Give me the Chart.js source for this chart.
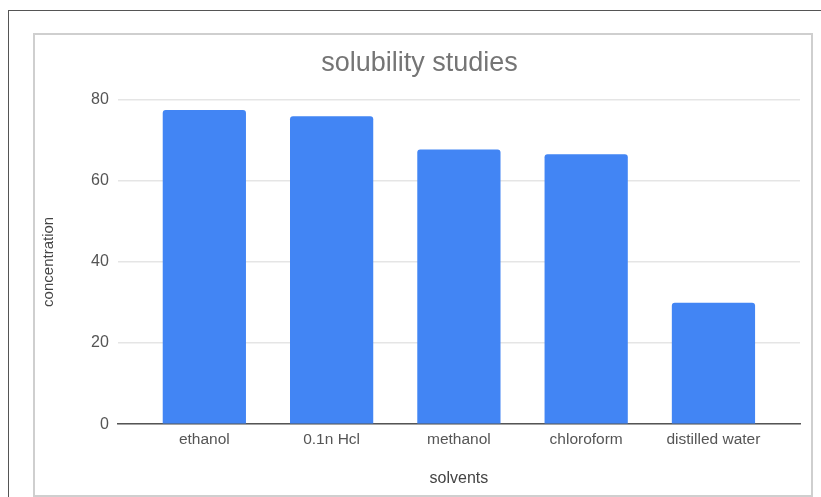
<!DOCTYPE html>
<html lang="en">
<head>
<meta charset="UTF-8">
<title>solubility studies</title>
<script src="https://cdn.jsdelivr.net/npm/chart.js"></script>
<style>
    body {
        margin: 0;
        background: #fff;
        font-family: "Liberation Sans", Arial, sans-serif;
        overflow: hidden;
    }
    .outer {
        position: absolute;
        left: 8px;
        top: 10px;
        width: 900px;
        height: 600px;
        border-top: 1px solid #555;
        border-left: 1px solid #555;
    }
    .frame {
        position: absolute;
        left: 33px;
        top: 33px;
        width: 776px;
        height: 460px;
        border: 2px solid #cfcfcf;
    }
</style>
</head>
<body>

<div class="outer"></div>
<div class="frame">
    <canvas id="solubilityChart"></canvas>
</div>

<script>
// values
const solvents = ['ethanol', '0.1n Hcl', 'methanol', 'chloroform', 'distilled water'];
const concentration = [77.4, 75.9, 67.7, 66.5, 29.9];
const yTicks = [0, 20, 40, 60, 80];

const textGrey = '#555';
const fontFamily = '"Liberation Sans", Arial, sans-serif';

const ctx = document.getElementById('solubilityChart').getContext('2d');
new Chart(ctx, {
    type: 'bar',
    data: {
        datasets: [{
            data: concentration.map((v, i) => ({ x: i, y: v })),
            backgroundColor: '#4285F4',
            borderRadius: 3,
            categoryPercentage: 1.0,
            barPercentage: 0.654
        }]
    },
    options: {
        responsive: true,
        maintainAspectRatio: false,
        animation: false,
        layout: { padding: { left: 4, right: 11, top: 0, bottom: 0 } },
        plugins: {
            legend: { display: false },
            tooltip: { enabled: false },
            title: {
                display: true,
                text: 'solubility studies',
                color: '#757575',
                font: { family: fontFamily, size: 27, weight: 'normal' },
                padding: { top: 12.8, bottom: 19.3 }
            }
        },
        scales: {
            x: {
                type: 'linear',
                offset: false,
                min: -0.68,
                max: 4.68,
                afterBuildTicks: scale => {
                    scale.ticks = solvents.map((_, i) => ({ value: i }));
                },
                ticks: {
                    color: textGrey,
                    font: { family: fontFamily, size: 15.5 },
                    padding: 6.5,
                    maxRotation: 0,
                    autoSkip: false,
                    callback: value => solvents[value]
                },
                grid: { display: false, drawTicks: false },
                border: { display: true, color: '#555', width: 1.5 },
                title: {
                    display: true,
                    text: 'solvents',
                    color: '#444',
                    font: { family: fontFamily, size: 16 },
                    padding: { top: 13.5, bottom: 6.5 }
                }
            },
            y: {
                min: 0,
                max: 80,
                afterBuildTicks: scale => {
                    scale.ticks = yTicks.map(v => ({ value: v }));
                },
                ticks: {
                    color: textGrey,
                    font: { family: fontFamily, size: 16 },
                    padding: 9
                },
                grid: { color: '#e5e5e5', lineWidth: 1.5, drawTicks: false },
                border: { display: false },
                title: {
                    display: true,
                    text: 'concentration',
                    color: '#444',
                    font: { family: fontFamily, size: 15 },
                    padding: { top: 1, bottom: 24 }
                }
            }
        }
    }
});
</script>

</body>
</html>
